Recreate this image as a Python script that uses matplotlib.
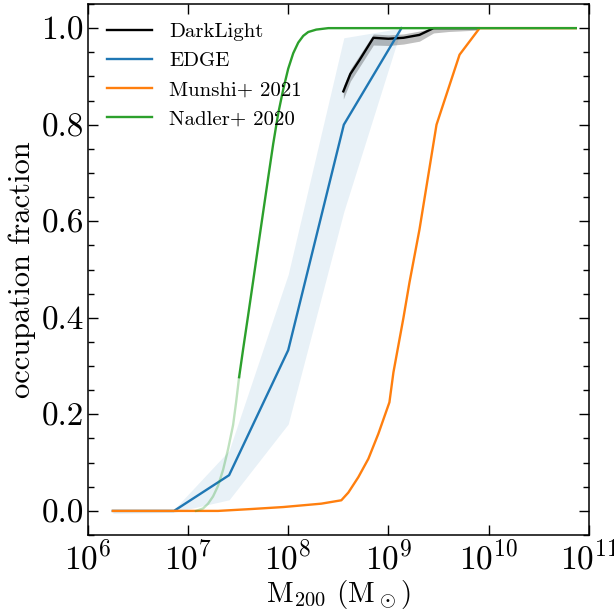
import numpy as np
import matplotlib
matplotlib.use("Agg")
import matplotlib.pyplot as plt
from matplotlib.ticker import MultipleLocator, FormatStrFormatter, NullLocator

plt.rcParams['font.family'] = 'serif'
plt.rcParams['font.serif'] = ['cmr10', 'DejaVu Serif']
plt.rcParams['mathtext.fontset'] = 'cm'
plt.rcParams['axes.formatter.use_mathtext'] = True
plt.rcParams['axes.unicode_minus'] = False

# ---- data (log10 M200, occupation fraction) ----
dl_logm = [8.55, 8.62, 8.715, 8.85, 9.0, 9.15, 9.31, 9.45, 9.6, 9.9]
dl_f = [0.869, 0.905, 0.935, 0.980, 0.978, 0.980, 0.986, 1.0, 1.0, 1.0]
dl_lo = [0.853, 0.890, 0.921, 0.965, 0.964, 0.967, 0.973, 0.990, 0.993, 0.996]
dl_hi = [0.880, 0.915, 0.945, 0.988, 0.986, 0.988, 0.994, 1.0, 1.0, 1.0]

edge_logm = [6.25, 6.86, 7.41, 8.0, 8.555, 9.13]
edge_f = [0.0, 0.0, 0.074, 0.333, 0.80, 1.0]
edge_lo = [-0.005, -0.003, 0.023, 0.18, 0.62, 1.0]
edge_hi = [0.003, 0.003, 0.125, 0.49, 0.98, 1.0]

munshi_logm = [6.25, 7.3, 7.64, 7.95, 8.33, 8.53, 8.6, 8.7, 8.8, 8.9, 9.01,
               9.05, 9.15, 9.21, 9.31, 9.48, 9.71, 9.91, 10.87]
munshi_f = [0.0, 0.0, 0.004, 0.008, 0.015, 0.022, 0.038, 0.07, 0.108, 0.16,
            0.225, 0.287, 0.40, 0.473, 0.583, 0.80, 0.945, 1.0, 1.0]

nadler_faint_logm = [7.08, 7.15, 7.2, 7.25, 7.3, 7.35, 7.4, 7.45, 7.48, 7.51]
nadler_faint_f = [0.0, 0.005, 0.015, 0.030, 0.052, 0.085, 0.128, 0.178,
                  0.225, 0.277]
nadler_logm = [7.51, 7.55, 7.6, 7.65, 7.7, 7.75, 7.8, 7.85, 7.9, 7.95, 8.0,
               8.05, 8.1, 8.15, 8.2, 8.28, 8.4, 9.0, 10.0, 10.87]
nadler_f = [0.277, 0.335, 0.405, 0.476, 0.548, 0.619, 0.69, 0.76, 0.823,
            0.873, 0.916, 0.948, 0.970, 0.984, 0.992, 0.997, 1.0, 1.0, 1.0,
            1.0]

xticks_exp = [6, 7, 8, 9, 10, 11]


def m(lm):
    return 10 ** np.asarray(lm, dtype=float)


fig = plt.figure(figsize=(6.14, 6.15), dpi=100)
ax = fig.add_axes([0.143, 0.130, 0.816, 0.8635])

ax.fill_between(m(edge_logm), edge_lo, edge_hi, color='C0', alpha=0.1, lw=0)
ax.fill_between(m(dl_logm), dl_lo, dl_hi, color='k', alpha=0.25, lw=0)

lw = 1.7
ax.plot(m(dl_logm), dl_f, color='k', lw=lw, label='DarkLight')
ax.plot(m(edge_logm), edge_f, color='C0', lw=lw, label='EDGE')
ax.plot(m(munshi_logm), munshi_f, color='C1', lw=lw, label='Munshi+ 2021')
ax.plot(m(nadler_faint_logm), nadler_faint_f, color='C2', lw=lw, alpha=0.3)
ax.plot(m(nadler_logm), nadler_f, color='C2', lw=lw, label='Nadler+ 2020')

ax.set_xscale('log')
ax.set_xlim(1e6, 1e11)
ax.set_ylim(-0.05, 1.05)
ax.set_xticks(m(xticks_exp))
ax.xaxis.set_minor_locator(NullLocator())
ax.yaxis.set_major_locator(MultipleLocator(0.2))
ax.yaxis.set_minor_locator(MultipleLocator(0.05))
ax.yaxis.set_major_formatter(FormatStrFormatter('%.1f'))

ax.tick_params(which='both', direction='in', top=True, right=True,
               labelsize=24, width=1.0)
ax.tick_params(which='major', length=7)
ax.tick_params(axis='x', which='major', pad=3)
ax.tick_params(axis='y', which='major', pad=3)
ax.tick_params(which='minor', length=4)
for s in ax.spines.values():
    s.set_linewidth(1.1)

ax.set_xlabel(r'M$_{200}$ (M$_\odot$)', fontsize=21, labelpad=3)
ax.set_ylabel('occupation fraction', fontsize=22)

ax.legend(loc='upper left', frameon=False, fontsize=15, handlelength=2.2)

fig.savefig('out.png', dpi=100)
